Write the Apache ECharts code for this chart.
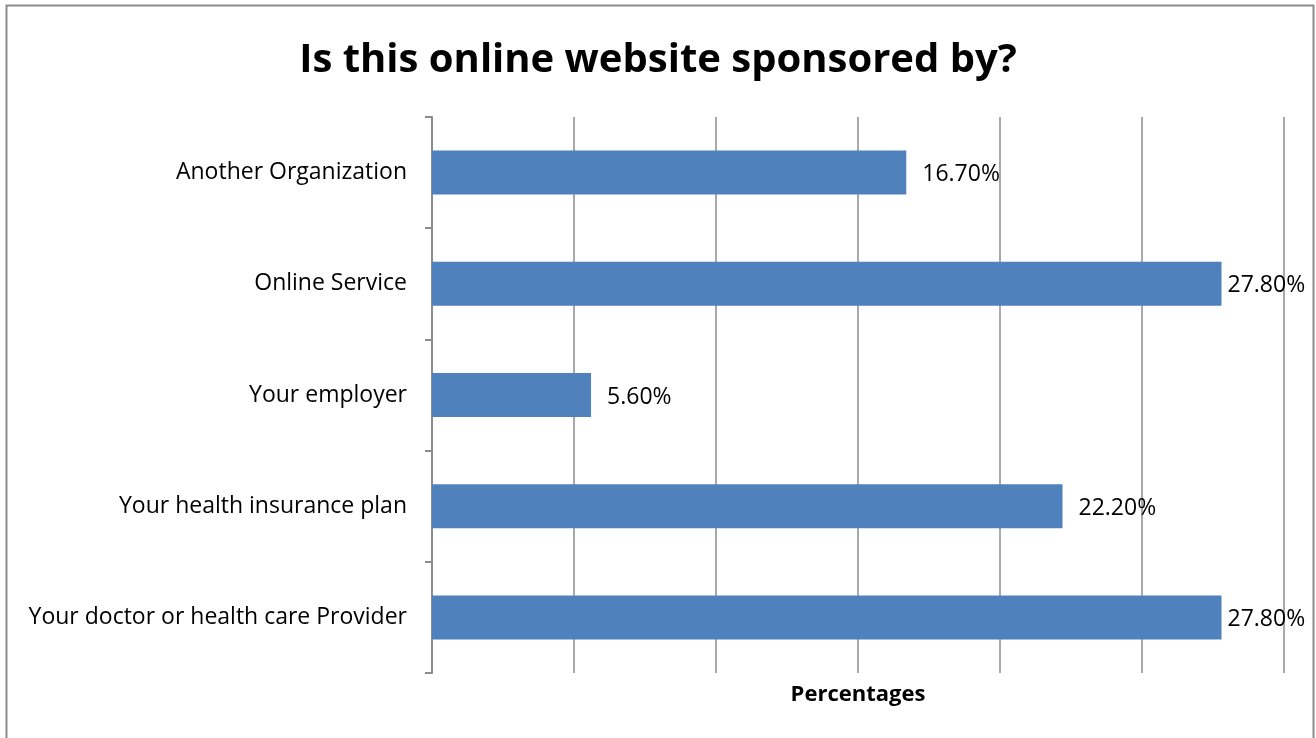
<!DOCTYPE html>
<html>
<head>
<meta charset="utf-8">
<script src="https://cdn.jsdelivr.net/npm/echarts@6/dist/echarts.min.js"></script>
<style>
  html, body { margin: 0; padding: 0; background: #fff; }
  #chart { width: 1316px; height: 738px; }
</style>
</head>
<body>
<div id="chart"></div>
<script>
// Sponsor categories, listed bottom to top as the category axis draws them
const categories = [
  'Your doctor or health care Provider',
  'Your health insurance plan',
  'Your employer',
  'Online Service',
  'Another Organization'
];
const percentages = [27.8, 22.2, 5.6, 27.8, 16.7];

const AXIS_MAX = 30;
const FONT = '"Open Sans", "Liberation Sans", sans-serif';

// Labels of bars that reach close to the right edge sit tighter to the bar
const barData = percentages.map(v => ({
  value: v,
  label: { distance: v > AXIS_MAX - 3 ? 6 : 16 }
}));

const chart = echarts.init(document.getElementById('chart'));

chart.setOption({
  animation: false,
  backgroundColor: '#ffffff',
  title: {
    text: 'Is this online website sponsored by?',
    left: 'center',
    top: 36,
    textStyle: { fontFamily: FONT, fontWeight: 'bold', fontSize: 40, color: '#000' }
  },
  graphic: [{
    type: 'rect',
    shape: { x: 6.5, y: 5.5, width: 1307, height: 760 },
    style: { fill: 'none', stroke: '#8c8c8c', lineWidth: 2 },
    silent: true
  }],
  grid: { left: 432, right: 32, top: 117, bottom: 65, containLabel: false },
  xAxis: {
    type: 'value',
    min: 0,
    max: AXIS_MAX,
    interval: 5,
    name: 'Percentages',
    nameLocation: 'middle',
    nameGap: 11,
    nameTextStyle: { fontFamily: FONT, fontWeight: 'bold', fontSize: 22, color: '#000' },
    axisLine: { show: false },
    axisTick: { show: false },
    axisLabel: { show: false },
    splitLine: { show: true, lineStyle: { color: '#8c8c8c', width: 1.5 } }
  },
  yAxis: {
    type: 'category',
    data: categories,
    axisLine: { show: true, lineStyle: { color: '#8c8c8c', width: 2 } },
    axisTick: { show: true, length: 7, lineStyle: { color: '#8c8c8c', width: 2 } },
    axisLabel: { fontFamily: FONT, fontSize: 23, color: '#000', margin: 25 },
    splitLine: { show: false }
  },
  series: [{
    type: 'bar',
    data: barData,
    barWidth: 44,
    itemStyle: { color: '#4F81BD' },
    label: {
      show: true,
      position: 'right',
      offset: [0, 2],
      fontFamily: FONT,
      fontSize: 23,
      color: '#000',
      formatter: p => p.value.toFixed(2) + '%'
    }
  }]
});
</script>
</body>
</html>
